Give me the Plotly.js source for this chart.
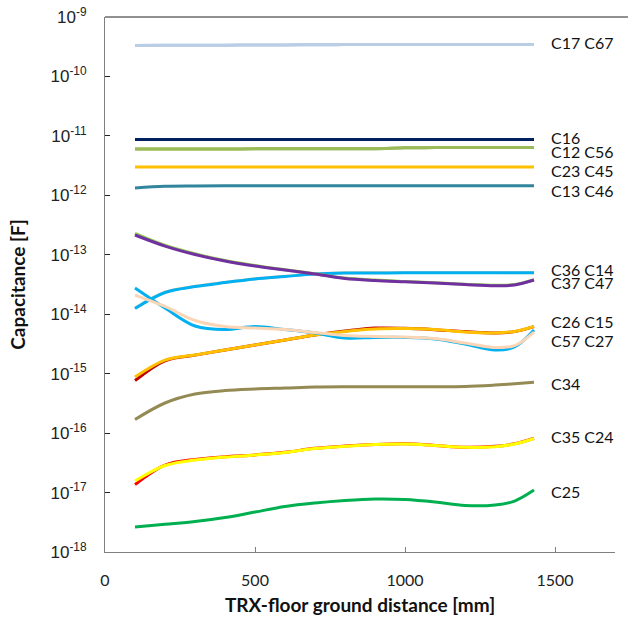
<!DOCTYPE html>
<html>
<head>
<meta charset="utf-8">
<script src="https://cdn.plot.ly/plotly-3.0.1.min.js"></script>
<style>html,body{margin:0;padding:0;background:#fff;}#chart{width:628px;height:621px;}</style>
</head>
<body>
<div id="chart"></div>
<script>
// Distance from floor ground [mm]
const distance = [100, 200, 300, 400, 500, 600, 700, 800, 900, 1000, 1100, 1200, 1300, 1365, 1430];

// Capacitance values [F]
const c17 = [3.33e-10, 3.34e-10, 3.35e-10, 3.36e-10, 3.37e-10, 3.38e-10, 3.42e-10, 3.43e-10, 3.44e-10, 3.44e-10, 3.45e-10, 3.45e-10, 3.46e-10, 3.46e-10, 3.46e-10];
const c67 = [3.33e-10, 3.34e-10, 3.35e-10, 3.36e-10, 3.37e-10, 3.38e-10, 3.42e-10, 3.43e-10, 3.44e-10, 3.44e-10, 3.45e-10, 3.45e-10, 3.46e-10, 3.46e-10, 3.46e-10];
const c16 = [8.7e-12, 8.7e-12, 8.7e-12, 8.7e-12, 8.7e-12, 8.7e-12, 8.7e-12, 8.7e-12, 8.7e-12, 8.7e-12, 8.7e-12, 8.7e-12, 8.7e-12, 8.7e-12, 8.7e-12];
const c12 = [6.0e-12, 6.0e-12, 6.0e-12, 6.0e-12, 6.05e-12, 6.05e-12, 6.1e-12, 6.1e-12, 6.1e-12, 6.3e-12, 6.35e-12, 6.4e-12, 6.4e-12, 6.4e-12, 6.4e-12];
const c56 = [6.0e-12, 6.0e-12, 6.0e-12, 6.0e-12, 6.05e-12, 6.05e-12, 6.1e-12, 6.1e-12, 6.1e-12, 6.3e-12, 6.35e-12, 6.4e-12, 6.4e-12, 6.4e-12, 6.4e-12];
const c23 = [3.0e-12, 3.0e-12, 3.0e-12, 3.0e-12, 3.0e-12, 3.0e-12, 3.0e-12, 3.0e-12, 3.0e-12, 3.0e-12, 3.0e-12, 3.0e-12, 3.0e-12, 3.0e-12, 3.0e-12];
const c13 = [1.33e-12, 1.42e-12, 1.44e-12, 1.45e-12, 1.45e-12, 1.45e-12, 1.45e-12, 1.45e-12, 1.45e-12, 1.45e-12, 1.45e-12, 1.45e-12, 1.45e-12, 1.45e-12, 1.45e-12];
const c36 = [1.25e-14, 2.32e-14, 2.92e-14, 3.41e-14, 3.91e-14, 4.31e-14, 4.75e-14, 4.93e-14, 4.95e-14, 4.97e-14, 4.97e-14, 4.97e-14, 4.97e-14, 4.97e-14, 4.97e-14];
const c14 = [1.27e-14, 2.35e-14, 2.95e-14, 3.44e-14, 3.95e-14, 4.36e-14, 4.8e-14, 4.98e-14, 5.02e-14, 5.05e-14, 5.04e-14, 5.03e-14, 5.02e-14, 5.0e-14, 4.98e-14];
const c37 = [2.15e-13, 1.40e-13, 1.01e-13, 7.85e-14, 6.47e-14, 5.54e-14, 4.75e-14, 3.99e-14, 3.69e-14, 3.51e-14, 3.35e-14, 3.16e-14, 3.02e-14, 3.1e-14, 3.76e-14];
const c47 = [2.3e-13, 1.45e-13, 1.04e-13, 8.0e-14, 6.6e-14, 5.6e-14, 4.8e-14, 4.05e-14, 3.75e-14, 3.56e-14, 3.4e-14, 3.2e-14, 3.06e-14, 3.15e-14, 3.8e-14];
const c26 = [8.77e-16, 1.69e-15, 2.06e-15, 2.50e-15, 3.03e-15, 3.68e-15, 4.47e-15, 5.12e-15, 5.64e-15, 5.74e-15, 5.53e-15, 5.02e-15, 4.83e-15, 5.12e-15, 6.21e-15];
const c15 = [7.62e-16, 1.65e-15, 2.05e-15, 2.50e-15, 3.03e-15, 3.68e-15, 4.47e-15, 5.2e-15, 5.85e-15, 5.8e-15, 5.5e-15, 5.1e-15, 4.85e-15, 5.1e-15, 6.2e-15];
const c57 = [2.76e-14, 1.27e-14, 6.33e-15, 5.53e-15, 6.21e-15, 5.53e-15, 4.83e-15, 3.98e-15, 4.06e-15, 4.06e-15, 3.83e-15, 3.15e-15, 2.50e-15, 2.81e-15, 5.42e-15];
const c27 = [2.10e-14, 1.35e-14, 7.84e-15, 6.21e-15, 5.86e-15, 5.53e-15, 4.92e-15, 4.38e-15, 4.22e-15, 4.14e-15, 3.90e-15, 3.28e-15, 2.76e-15, 2.97e-15, 5.02e-15];
const c34 = [1.69e-16, 3.21e-16, 4.54e-16, 5.20e-16, 5.52e-16, 5.73e-16, 5.96e-16, 6.03e-16, 6.03e-16, 6.03e-16, 6.03e-16, 6.1e-16, 6.44e-16, 6.75e-16, 7.14e-16];
const c35 = [1.56e-17, 2.85e-17, 3.52e-17, 3.96e-17, 4.28e-17, 4.71e-17, 5.50e-17, 6.00e-17, 6.43e-17, 6.55e-17, 6.18e-17, 5.77e-17, 5.90e-17, 6.55e-17, 8.11e-17];
const c24 = [1.36e-17, 2.9e-17, 3.6e-17, 4.0e-17, 4.3e-17, 4.75e-17, 5.55e-17, 6.05e-17, 6.45e-17, 6.6e-17, 6.2e-17, 5.8e-17, 6.0e-17, 6.6e-17, 8.2e-17];
const c25 = [2.63e-18, 2.92e-18, 3.25e-18, 3.80e-18, 4.70e-18, 5.82e-18, 6.66e-18, 7.34e-18, 7.78e-18, 7.63e-18, 6.93e-18, 6.05e-18, 6.17e-18, 7.19e-18, 1.10e-17];

// Label texts and y tick labels
const groupLabels = ["C17 C67", "C16", "C12 C56", "C23 C45", "C13 C46", "C36 C14", "C37 C47", "C26 C15", "C57 C27", "C34", "C35 C24", "C25"];
const yTickValues = [1e-18, 1e-17, 1e-16, 1e-15, 1e-14, 1e-13, 1e-12, 1e-11, 1e-10, 1e-9];
const yTickLabels = ["10<sup>-18</sup>", "10<sup>-17</sup>", "10<sup>-16</sup>", "10<sup>-15</sup>", "10<sup>-14</sup>", "10<sup>-13</sup>", "10<sup>-12</sup>", "10<sup>-11</sup>", "10<sup>-10</sup>", "10<sup>-9</sup>"];
const xTickValues = [0, 500, 1000, 1500];

// Series drawn in order (bottom first)
const series = [
  {name: "C67", y: c67, color: "#b9cde5", w: 3},
  {name: "C17", y: c17, color: "#b9cde5", w: 3},
  {name: "C16", y: c16, color: "#002060", w: 3},
  {name: "C56", y: c56, color: "#9bbb59", w: 3},
  {name: "C12", y: c12, color: "#9bbb59", w: 3},
  {name: "C23 C45", y: c23, color: "#ffc000", w: 3},
  {name: "C13 C46", y: c13, color: "#31859c", w: 3},
  {name: "C14", y: c14, color: "#fcd5b5", w: 3},
  {name: "C36", y: c36, color: "#00b0f0", w: 3},
  {name: "C47", y: c47, color: "#92d050", w: 3},
  {name: "C37", y: c37, color: "#7030a0", w: 3},
  {name: "C15", y: c15, color: "#c00000", w: 3},
  {name: "C26", y: c26, color: "#ffc000", w: 3},
  {name: "C57", y: c57, color: "#00b0f0", w: 3},
  {name: "C27", y: c27, color: "#fcd5b5", w: 3},
  {name: "C34", y: c34, color: "#948a54", w: 3},
  {name: "C24", y: c24, color: "#ff0000", w: 3},
  {name: "C35", y: c35, color: "#ffff00", w: 3},
  {name: "C25", y: c25, color: "#00b050", w: 3}
];

const traces = series.map(s => ({
  type: "scatter", mode: "lines", name: s.name,
  x: distance, y: s.y,
  line: {color: s.color, width: s.w, shape: "spline", smoothing: 1},
  hoverinfo: "skip"
}));

// label anchor: just right of the line ends; y given as log10 exponent
const labelY = [-9.432, -11.024, -11.266, -11.586, -11.911, -13.240, -13.470, -14.126, -14.434, -15.163, -16.061, -16.986];
const annotations = groupLabels.map((t, i) => ({
  text: t, x: 1480, y: labelY[i], xref: "x", yref: "y",
  xanchor: "left", yanchor: "middle", showarrow: false,
  font: {family: "Lato, 'Liberation Sans', sans-serif", size: 16, color: "#111"}
}));

const layout = {
  width: 628, height: 621,
  margin: {l: 105, r: 13, t: 17, b: 69},
  paper_bgcolor: "#fff", plot_bgcolor: "#fff",
  showlegend: false,
  xaxis: {
    range: [0, 1700], tickvals: xTickValues, ticktext: xTickValues.map(String),
    ticks: "inside", ticklen: 5, tickcolor: "#7f7f7f", tickwidth: 1,
    showline: true, linecolor: "#7f7f7f", linewidth: 1,
    showgrid: false, zeroline: false,
    ticklabelstandoff: 14,
    tickfont: {family: "Lato, 'Liberation Sans', sans-serif", size: 16, color: "#222"},
    title: {text: "TRX-floor ground distance [mm]", standoff: 10,
      font: {family: "Lato, 'Liberation Sans', sans-serif", size: 19, weight: "bold", color: "#111"}}
  },
  yaxis: {
    type: "log", range: [-18, -9], tickvals: yTickValues, ticktext: yTickLabels,
    ticks: "inside", ticklen: 5, tickcolor: "#222", tickwidth: 1,
    showline: true, linecolor: "#7f7f7f", linewidth: 1,
    showgrid: false, zeroline: false,
    ticklabelstandoff: 14,
    tickfont: {family: "'Liberation Sans', Arial, sans-serif", size: 17, color: "#222"},
    title: {text: "Capacitance [F]", standoff: 19,
      font: {family: "Lato, 'Liberation Sans', sans-serif", size: 19, weight: "bold", color: "#111"}}
  },
  shapes: [{type: "line", xref: "paper", yref: "paper", x0: 0, x1: 1.03, y0: 1, y1: 1,
    line: {color: "#222", width: 1}}],
  annotations: annotations
};

Plotly.newPlot("chart", traces, layout, {displayModeBar: false, staticPlot: true});
</script>
</body>
</html>
